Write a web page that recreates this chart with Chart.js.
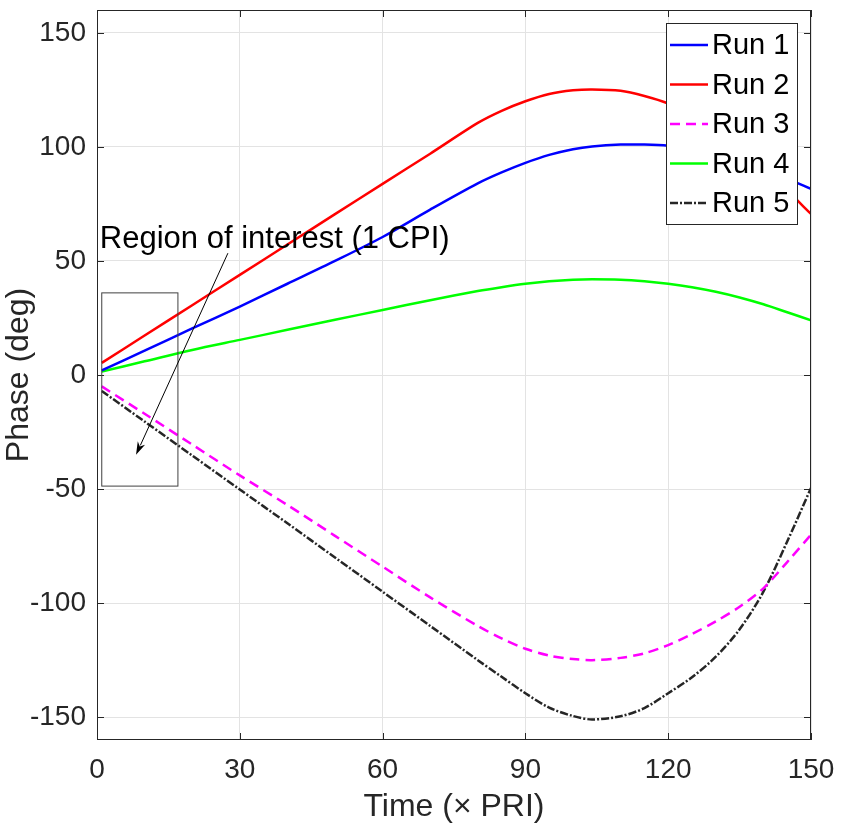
<!DOCTYPE html>
<html>
<head>
<meta charset="utf-8">
<script src="https://cdn.jsdelivr.net/npm/chart.js@4"></script>
<style>
  html, body { margin: 0; padding: 0; background: #fff; }
  #wrap { width: 843px; height: 836px; }
</style>
</head>
<body>
<div id="wrap"><canvas id="chart" width="843" height="836"></canvas></div>
<script>
// Time samples (x PRI)
const times = [1, 10, 20, 30, 40, 50, 60, 70, 80, 85, 90, 95, 100, 104, 110, 115, 120, 125, 130, 135, 140, 145, 150];

// Phase (deg) per run
const run1 = [2, 10.7, 20.4, 30, 40, 50, 60.5, 72.5, 84, 88.8, 93, 96.5, 99, 100.2, 101, 101, 100.5, 99, 97, 94, 90, 86, 81.6];
const run2 = [5.3, 17.3, 30.6, 43.9, 57.2, 70.5, 83.8, 97, 110.5, 115.8, 120, 123.2, 124.8, 125.2, 124.6, 122.3, 119, 114, 108, 101, 92, 81, 70.6];
const run3 = [-5, -17, -30.5, -44, -57, -70.5, -84, -97.5, -110, -115.5, -120, -123, -124.5, -125, -124, -122, -118.4, -113.5, -108, -101.6, -93.5, -82, -70];
const run4 = [1.5, 6, 11, 15.4, 19.8, 24.2, 28.5, 32.8, 36.8, 38.5, 40, 41.1, 41.8, 42, 41.8, 41.1, 40, 38.5, 36.5, 34, 31, 27.5, 24];
const run5 = [-7, -20.4, -35.3, -50.2, -65, -80, -95, -110, -125, -132.3, -139.5, -145.8, -149.5, -151, -149.6, -146, -139.5, -132.5, -123.5, -111.5, -95, -73, -49.5];

const runNames = ["Run 1", "Run 2", "Run 3", "Run 4", "Run 5"];
const xTicks = [0, 30, 60, 90, 120, 150];
const yTicks = [-150, -100, -50, 0, 50, 100, 150];

// Region of interest annotation (data coordinates)
const roiX = [1, 17];
const roiY = [-48.7, 36];
const roiArrowFrom = [27.5, 53.4];
const roiArrowTo = [8.2, -35];
const roiLabel = "Region of interest (1 CPI)";
const roiLabelAt = [0.6, 55.7];

const FONT = "'Liberation Sans', Arial, Helvetica, sans-serif";

const styles = [
  { color: "#0000ff", dash: [] },
  { color: "#ff0000", dash: [] },
  { color: "#ff00ff", dash: [10, 6] },
  { color: "#00ff00", dash: [] },
  { color: "#262626", dash: [8, 2, 2, 2] }
];

function series(values) {
  return times.map((t, i) => ({ x: t, y: values[i] }));
}

const datasets = [run1, run2, run3, run4, run5].map((vals, i) => ({
  label: runNames[i],
  data: series(vals),
  borderColor: styles[i].color,
  backgroundColor: styles[i].color,
  borderDash: styles[i].dash,
  borderWidth: 2.5,
  pointRadius: 0,
  tension: 0.3,
  fill: false
}));

// box around plot, inward tick marks, annotation and legend
const matlabLook = {
  id: "matlabLook",
  afterDatasetsDraw(chart) {
    const ctx = chart.ctx;
    const area = chart.chartArea;
    const xs = chart.scales.x;
    const ys = chart.scales.y;

    ctx.save();
    ctx.strokeStyle = "#262626";
    ctx.lineWidth = 1;
    ctx.setLineDash([]);
    ctx.strokeRect(area.left + 0.5, area.top + 0.5, area.width - 1, area.height - 1);

    const tl = 7;
    ctx.beginPath();
    xTicks.forEach(v => {
      const px = Math.round(xs.getPixelForValue(v)) + 0.5;
      ctx.moveTo(px, area.bottom); ctx.lineTo(px, area.bottom - tl);
      ctx.moveTo(px, area.top); ctx.lineTo(px, area.top + tl);
    });
    yTicks.forEach(v => {
      const py = Math.round(ys.getPixelForValue(v)) + 0.5;
      ctx.moveTo(area.left, py); ctx.lineTo(area.left + tl, py);
      ctx.moveTo(area.right, py); ctx.lineTo(area.right - tl, py);
    });
    ctx.stroke();

    // region of interest box
    const bx0 = xs.getPixelForValue(roiX[0]);
    const bx1 = xs.getPixelForValue(roiX[1]);
    const by0 = ys.getPixelForValue(roiY[1]);
    const by1 = ys.getPixelForValue(roiY[0]);
    ctx.strokeStyle = "#404040";
    ctx.strokeRect(bx0, by0, bx1 - bx0, by1 - by0);

    // arrow
    const ax0 = xs.getPixelForValue(roiArrowFrom[0]);
    const ay0 = ys.getPixelForValue(roiArrowFrom[1]);
    const ax1 = xs.getPixelForValue(roiArrowTo[0]);
    const ay1 = ys.getPixelForValue(roiArrowTo[1]);
    const ang = Math.atan2(ay1 - ay0, ax1 - ax0);
    const hl = 13, hw = 4;
    ctx.strokeStyle = "#000";
    ctx.beginPath();
    ctx.moveTo(ax0, ay0);
    ctx.lineTo(ax1 - Math.cos(ang) * hl * 0.8, ay1 - Math.sin(ang) * hl * 0.8);
    ctx.stroke();
    ctx.fillStyle = "#000";
    ctx.beginPath();
    ctx.moveTo(ax1, ay1);
    ctx.lineTo(ax1 - Math.cos(ang) * hl - Math.sin(ang) * hw, ay1 - Math.sin(ang) * hl + Math.cos(ang) * hw);
    ctx.lineTo(ax1 - Math.cos(ang) * hl * 0.7, ay1 - Math.sin(ang) * hl * 0.7);
    ctx.lineTo(ax1 - Math.cos(ang) * hl + Math.sin(ang) * hw, ay1 - Math.sin(ang) * hl - Math.cos(ang) * hw);
    ctx.closePath();
    ctx.fill();

    ctx.font = "31px " + FONT;
    ctx.textAlign = "left";
    ctx.textBaseline = "alphabetic";
    ctx.fillText(roiLabel, xs.getPixelForValue(roiLabelAt[0]), ys.getPixelForValue(roiLabelAt[1]));

    // legend
    const lgRight = area.right - 14;
    const lgTop = area.top + 13;
    const lgW = 131, lgH = 201, rowH = 39.5;
    const lgLeft = lgRight - lgW;
    ctx.fillStyle = "#fff";
    ctx.fillRect(lgLeft, lgTop, lgW, lgH);
    ctx.strokeStyle = "#262626";
    ctx.strokeRect(lgLeft + 0.5, lgTop + 0.5, lgW, lgH);
    ctx.font = "29px " + FONT;
    ctx.textBaseline = "middle";
    chart.data.datasets.forEach((ds, i) => {
      const cy = lgTop + 22 + i * rowH;
      ctx.strokeStyle = ds.borderColor;
      ctx.lineWidth = 2.5;
      ctx.setLineDash(ds.borderDash);
      ctx.beginPath();
      ctx.moveTo(lgLeft + 4, cy);
      ctx.lineTo(lgLeft + 42, cy);
      ctx.stroke();
      ctx.setLineDash([]);
      ctx.fillStyle = "#000";
      ctx.fillText(ds.label, lgLeft + 46, cy + 1);
    });
    ctx.restore();
  }
};

new Chart(document.getElementById("chart"), {
  type: "line",
  data: { datasets: datasets },
  plugins: [matlabLook],
  options: {
    responsive: false,
    animation: false,
    layout: { padding: { left: 0, top: 10, right: 32, bottom: 0 } },
    plugins: {
      legend: { display: false },
      tooltip: { enabled: false }
    },
    scales: {
      x: {
        type: "linear",
        min: 0,
        max: 150,
        afterBuildTicks: s => { s.ticks = xTicks.map(v => ({ value: v })); },
        afterFit: s => { s.height = 96; s.paddingLeft = 0; s.paddingRight = 0; },
        grid: { color: "#e3e3e3", drawTicks: false },
        border: { display: false },
        ticks: { color: "#262626", font: { family: FONT, size: 28 }, padding: 13, maxRotation: 0 },
        title: {
          display: true,
          text: "Time (\u00d7 PRI)",
          color: "#262626",
          font: { family: FONT, size: 32 },
          padding: { top: 0, bottom: 10 }
        }
      },
      y: {
        min: -160,
        max: 160,
        afterBuildTicks: s => { s.ticks = yTicks.map(v => ({ value: v })); },
        afterFit: s => { s.width = 97; s.paddingTop = 0; s.paddingBottom = 0; },
        grid: { color: "#e3e3e3", drawTicks: false },
        border: { display: false },
        ticks: { color: "#262626", font: { family: FONT, size: 28 }, padding: 11 },
        title: {
          display: true,
          text: "Phase (deg)",
          color: "#262626",
          font: { family: FONT, size: 32 },
          padding: { top: 0, bottom: 8 }
        }
      }
    }
  }
});
</script>
</body>
</html>
